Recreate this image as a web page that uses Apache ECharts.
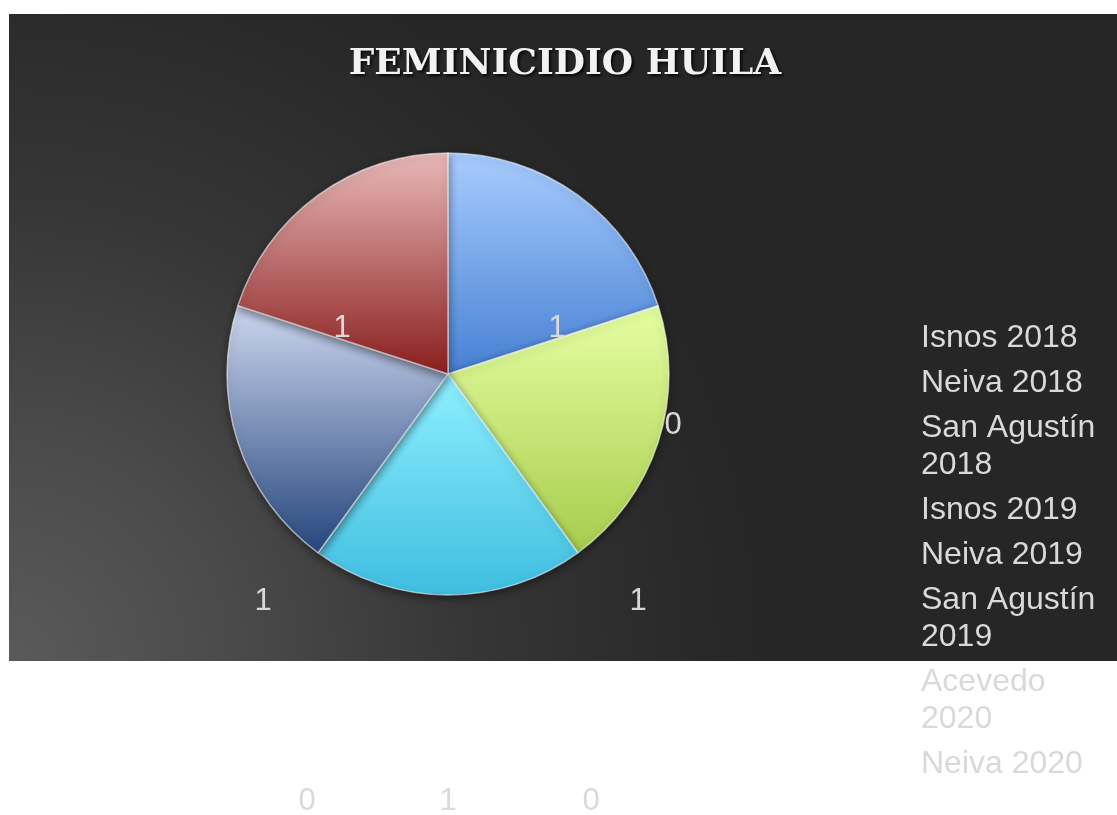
<!DOCTYPE html>
<html>
<head>
<meta charset="utf-8">
<title>Feminicidio Huila</title>
<script src="https://cdn.jsdelivr.net/npm/echarts@6/dist/echarts.min.js"></script>
<style>
html, body { margin: 0; padding: 0; background: #fff; }
#chart { width: 1117px; height: 815px; }
</style>
</head>
<body>
<div id="chart"></div>
<script>
// datos
var categories = ['Isnos 2018', 'Neiva 2018', 'San Agustín 2018', 'Isnos 2019', 'Neiva 2019', 'San Agustín 2019', 'Acevedo 2020', 'Neiva 2020'];
var values = [1, 0, 1, 1, 1, 1, 0, 0];

// colores de cada porcion (arriba claro, abajo oscuro)
var topColors = ['#a8ccff', '#e9b9b9', '#e6ffa2', '#8ff0ff', '#cdd7ef', '#e9b9b9', '#b4a0d0', '#f0c090'];
var bottomColors = ['#4680d2', '#8a1e1e', '#a6cc4c', '#3ebde0', '#25467c', '#8a1e1e', '#604090', '#b07030'];

// donde Excel dejo cada etiqueta
var labelSpots = [[557, 328], [673, 425], [638, 601], [263, 601], [448, 801], [342, 328], [307, 801], [591, 801]];

var myChart = echarts.init(document.getElementById('chart'));

var pieData = [];
for (var i = 0; i < categories.length; i++) {
	pieData.push({
		name: categories[i],
		value: values[i],
		itemStyle: {
			color: new echarts.graphic.LinearGradient(0, 0, 0, 1, [
				{ offset: 0, color: topColors[i] },
				{ offset: 1, color: bottomColors[i] }
			]),
			borderWidth: values[i] > 0 ? 1.5 : 0
		}
	});
}

var option = {
	animation: false,
	backgroundColor: '#ffffff',
	graphic: [{
		type: 'rect',
		z: -10,
		shape: { x: 9, y: 14, width: 1108, height: 647 },
		style: {
			fill: new echarts.graphic.RadialGradient(0, 1, 1.18, [
				{ offset: 0, color: '#5a5a5a' },
				{ offset: 0.3, color: '#4a4a4a' },
				{ offset: 0.6, color: '#363636' },
				{ offset: 0.9, color: '#292929' },
				{ offset: 1, color: '#262626' }
			])
		}
	}],
	title: {
		text: 'FEMINICIDIO HUILA',
		left: 565,
		top: 47,
		padding: 0,
		textAlign: 'center',
		textStyle: {
			fontFamily: 'DejaVu Serif',
			fontWeight: 'bold',
			fontSize: 36,
			color: '#f2f2f2',
			textShadowColor: 'rgba(0,0,0,0.85)',
			textShadowBlur: 3,
			textShadowOffsetX: 2,
			textShadowOffsetY: 2
		}
	},
	legend: {
		orient: 'vertical',
		left: 916,
		top: 320,
		height: 495,
		padding: 0,
		icon: 'none',
		itemWidth: 0,
		itemHeight: 0,
		itemGap: 8,
		selectedMode: false,
		data: categories,
		// los nombres largos pasan el año a la linea de abajo
		formatter: function(name) {
			if (name.length > 10) {
				var k = name.lastIndexOf(' ');
				return name.slice(0, k) + '\n' + name.slice(k + 1);
			}
			return name;
		},
		textStyle: {
			fontFamily: 'Liberation Sans',
			fontSize: 32,
			lineHeight: 37,
			color: '#d9d9d9'
		}
	},
	series: [{
		type: 'pie',
		center: [448, 374],
		radius: [0, 221],
		startAngle: 90,
		clockwise: true,
		avoidLabelOverlap: false,
		stillShowZeroSum: true,
		data: pieData,
		itemStyle: {
			borderColor: 'rgba(255,255,255,0.55)',
			shadowBlur: 8,
			shadowColor: 'rgba(0,0,0,0.45)',
			shadowOffsetY: 3
		},
		label: {
			show: true,
			position: 'inside',
			formatter: '{c}',
			fontFamily: 'Liberation Sans',
			fontSize: 31,
			color: '#d9d9d9'
		},
		labelLine: { show: false },
		labelLayout: function(params) {
			var p = labelSpots[params.dataIndex];
			return { x: p[0], y: p[1], align: 'center', verticalAlign: 'middle' };
		},
		emphasis: { disabled: true }
	}]
};

myChart.setOption(option);
</script>
</body>
</html>
